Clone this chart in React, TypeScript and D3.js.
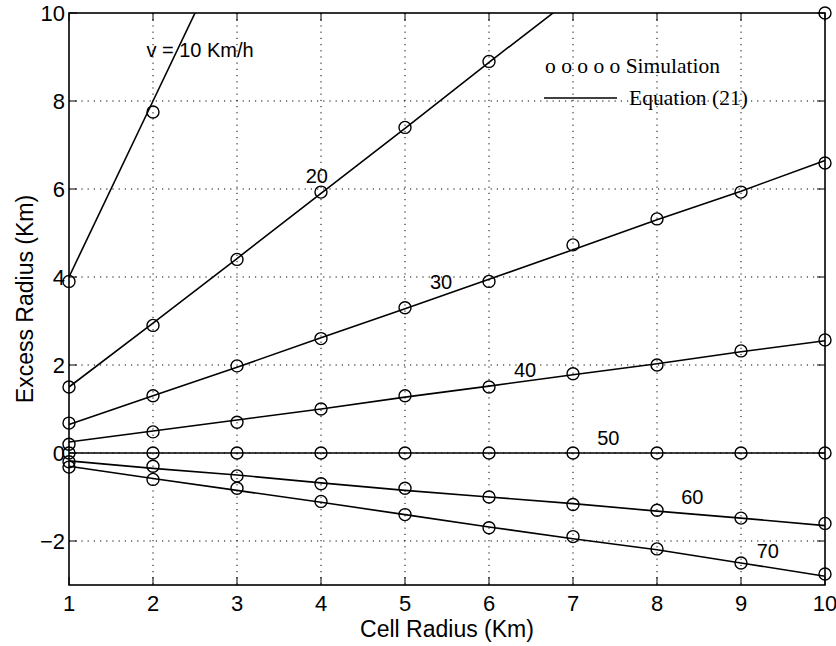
import React, { useEffect, useRef } from "react";
import * as d3 from "d3";

// x values (Cell Radius, Km) and y ticks
const cellRadius = [1, 2, 3, 4, 5, 6, 7, 8, 9, 10];
const yTicks = [-2, 0, 2, 4, 6, 8, 10];

// simulation points (circles), read at cellRadius 1,2,3,...
const sim10 = [3.9, 7.75];
const sim20 = [1.5, 2.9, 4.4, 5.93, 7.4, 8.9];
const sim30 = [0.68, 1.3, 1.98, 2.6, 3.3, 3.9, 4.73, 5.32, 5.93, 6.59];
const sim40 = [0.2, 0.48, 0.7, 1.0, 1.3, 1.5, 1.8, 2.0, 2.32, 2.57];
const sim50 = [0, 0, 0, 0, 0, 0, 0, 0, 0, 0];
const sim60 = [-0.2, -0.3, -0.52, -0.7, -0.8, -1.0, -1.17, -1.3, -1.48, -1.6];
const sim70 = [-0.32, -0.6, -0.8, -1.1, -1.4, -1.7, -1.9, -2.18, -2.5, -2.75];
// lone marker sitting in the top-right corner
const simCorner = [{ x: 10, y: 10 }];

// equation (21) curves at cellRadius 1,2,3,... (clipped at the top)
const eq10 = [4.0, 8.0, 12.0];
const eq20 = [1.5, 2.95, 4.42, 5.9, 7.38, 8.88, 10.35];
const eq30 = [0.65, 1.3, 1.95, 2.62, 3.28, 3.95, 4.62, 5.3, 5.95, 6.65];
const eq40 = [0.25, 0.5, 0.75, 1.0, 1.27, 1.52, 1.78, 2.03, 2.3, 2.55];
const eq50 = [0, 0, 0, 0, 0, 0, 0, 0, 0, 0];
const eq60 = [-0.18, -0.35, -0.5, -0.68, -0.85, -1.0, -1.15, -1.32, -1.48, -1.65];
const eq70 = [-0.3, -0.58, -0.85, -1.12, -1.4, -1.68, -1.95, -2.2, -2.5, -2.8];

const speedLabels = ["v = 10 Km/h", "20", "30", "40", "50", "60", "70"];

const W = 836, H = 646;
const margin = { top: 13, right: 11, bottom: 61, left: 69 };

export default function App() {
    const ref = useRef<SVGSVGElement>(null);

    useEffect(() => {
        const w = W - margin.left - margin.right,
            h = H - margin.top - margin.bottom;

        const svg = d3.select(ref.current);
        const g = svg.select(".g_1").attr("transform", `translate(${margin.left}, ${margin.top})`);

        const x = d3.scaleLinear().domain([1, 10]).range([0, w]);
        const y = d3.scaleLinear().domain([-3, 10]).range([h, 0]);

        const sans = "'Liberation Sans', Arial, Helvetica, sans-serif";
        const serif = "'Liberation Serif', 'Times New Roman', serif";

        // dotted grid
        g.selectAll(".gx").data(cellRadius.slice(1, -1)).join("line").attr("class", "gx")
            .attr("x1", d => x(d)).attr("x2", d => x(d)).attr("y1", 0).attr("y2", h)
            .attr("stroke", "#000").attr("stroke-width", 1).attr("stroke-dasharray", "1.2,5");
        g.selectAll(".gy").data(yTicks.filter(d => d !== 10)).join("line").attr("class", "gy")
            .attr("x1", 0).attr("x2", w).attr("y1", d => y(d)).attr("y2", d => y(d))
            .attr("stroke", "#000").attr("stroke-width", 1).attr("stroke-dasharray", "1.2,5");

        // clip for curves
        svg.select("defs").selectAll("clipPath").data([0]).join("clipPath").attr("id", "plotclip")
            .selectAll("rect").data([0]).join("rect")
            .attr("x", -8).attr("y", 0).attr("width", w + 16).attr("height", h);

        const eqs = [eq10, eq20, eq30, eq40, eq50, eq60, eq70];
        const sims = [sim10, sim20, sim30, sim40, sim50, sim60, sim70];

        const line = d3.line<number>().x((d, i) => x(cellRadius[i])).y(d => y(d));
        g.selectAll(".eq").data(eqs).join("path").attr("class", "eq")
            .attr("d", d => line(d))
            .attr("clip-path", "url(#plotclip)")
            .attr("fill", "none").attr("stroke", "#000").attr("stroke-width", 1.6);

        const pts = sims.flatMap(s => s.map((v, i) => ({ x: cellRadius[i], y: v }))).concat(simCorner);
        g.selectAll(".sim").data(pts).join("circle").attr("class", "sim")
            .attr("cx", d => x(d.x)).attr("cy", d => y(d.y)).attr("r", 6)
            .attr("fill", "none").attr("stroke", "#000").attr("stroke-width", 1.4);

        // frame
        g.selectAll(".frame").data([0]).join("rect").attr("class", "frame")
            .attr("x", 0).attr("y", 0).attr("width", w).attr("height", h)
            .attr("fill", "none").attr("stroke", "#000").attr("stroke-width", 1.6);

        // inward ticks on all four sides
        const tk = 8;
        g.selectAll(".tb").data(cellRadius).join("line").attr("class", "tb")
            .attr("x1", d => x(d)).attr("x2", d => x(d)).attr("y1", h).attr("y2", h - tk)
            .attr("stroke", "#000");
        g.selectAll(".tt").data(cellRadius).join("line").attr("class", "tt")
            .attr("x1", d => x(d)).attr("x2", d => x(d)).attr("y1", 0).attr("y2", tk)
            .attr("stroke", "#000");
        g.selectAll(".tl").data(yTicks).join("line").attr("class", "tl")
            .attr("x1", 0).attr("x2", tk).attr("y1", d => y(d)).attr("y2", d => y(d))
            .attr("stroke", "#000");
        g.selectAll(".tr").data(yTicks).join("line").attr("class", "tr")
            .attr("x1", w).attr("x2", w - tk).attr("y1", d => y(d)).attr("y2", d => y(d))
            .attr("stroke", "#000");

        // tick labels
        g.selectAll(".xl").data(cellRadius).join("text").attr("class", "xl")
            .attr("x", d => x(d)).attr("y", h + 26)
            .attr("text-anchor", "middle").style("font-family", sans).style("font-size", "22px")
            .text(d => d);
        g.selectAll(".yl").data(yTicks).join("text").attr("class", "yl")
            .attr("x", -4).attr("y", d => y(d)).attr("dy", "0.36em")
            .attr("text-anchor", "end").style("font-family", sans).style("font-size", "22px")
            .text(d => d3.format("")(d).replace("-", "\u2212"));

        // axis titles
        g.selectAll(".x_label").data([0]).join("text").attr("class", "x_label")
            .attr("x", w / 2).attr("y", h + 52)
            .attr("text-anchor", "middle").style("font-family", sans).style("font-size", "23px")
            .text("Cell Radius (Km)");
        g.selectAll(".y_label").data([0]).join("text").attr("class", "y_label")
            .attr("transform", `translate(${33 - margin.left}, ${h / 2}) rotate(-90)`)
            .attr("text-anchor", "middle").style("font-family", sans).style("font-size", "23px")
            .text("Excess Radius (Km)");

        // speed labels next to each curve (data coords)
        const labelAt = [[2.56, 9.16], [3.95, 6.3], [5.43, 3.9], [6.43, 1.89], [7.42, 0.34], [8.42, -1.0], [9.32, -2.23]];
        g.selectAll(".vl").data(speedLabels).join("text").attr("class", "vl")
            .attr("x", (d, i) => x(labelAt[i][0])).attr("y", (d, i) => y(labelAt[i][1])).attr("dy", "0.36em")
            .attr("text-anchor", "middle").style("font-family", sans).style("font-size", "20px")
            .text(d => d);

        // legend
        const lg = g.selectAll(".legend").data([0]).join("g").attr("class", "legend")
            .attr("transform", `translate(${545 - margin.left}, ${67 - margin.top})`);
        lg.selectAll(".l1").data([0]).join("text").attr("class", "l1")
            .attr("x", 0).attr("y", 6)
            .style("font-family", serif).style("font-size", "21.5px")
            .text("o o o o o Simulation");
        lg.selectAll(".l2").data([0]).join("line").attr("class", "l2")
            .attr("x1", -1).attr("x2", 72).attr("y1", 31).attr("y2", 31)
            .attr("stroke", "#000").attr("stroke-width", 1.6);
        lg.selectAll(".l3").data([0]).join("text").attr("class", "l3")
            .attr("x", 84).attr("y", 38)
            .style("font-family", serif).style("font-size", "21.5px")
            .text("Equation (21)");
    }, []);

    return (
        <svg ref={ref} width={W} height={H} style={{ position: "absolute", left: 0, top: 0, background: "#fff" }}>
            <defs></defs>
            <g className="g_1"></g>
        </svg>
    );
}
